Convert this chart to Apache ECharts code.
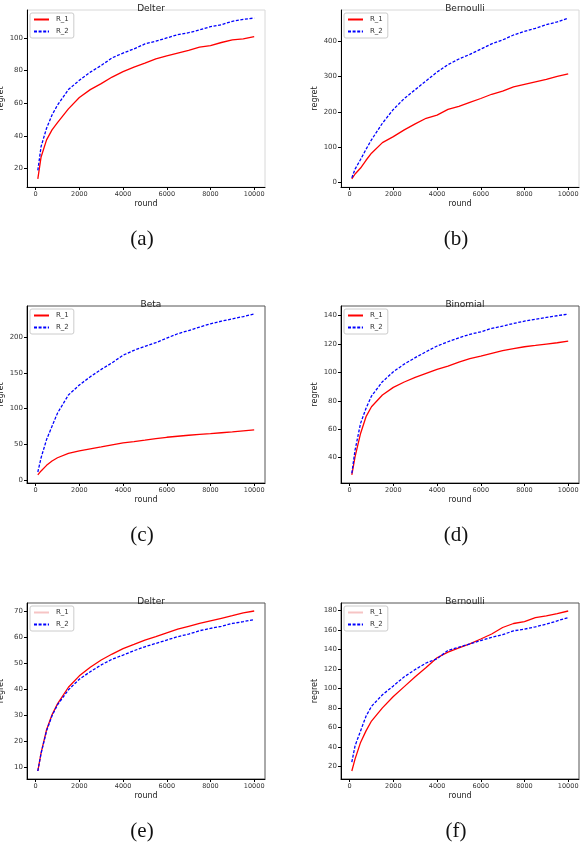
<!DOCTYPE html>
<html>
<head>
<meta charset="utf-8">
<script src="https://cdn.jsdelivr.net/npm/echarts@6/dist/echarts.min.js"></script>
<style>
    html, body { margin: 0; padding: 0; background: #fff; }
    #chart { width: 580px; height: 842px; }
</style>
</head>
<body>
<div id="chart"></div>
<script>
// rounds shared by every panel
const rounds = [100, 250, 500, 750, 1000, 1500, 2000, 2500, 3000, 3500, 4000, 4500, 5000, 5500, 6000, 6500, 7000, 7500, 8000, 8500, 9000, 9500, 10000]

// (a) Delter
const delterR1 = [13.5, 27, 37.5, 43.6, 48, 56.5, 63.5, 68.3, 72, 76, 79.3, 82.1, 84.6, 87.2, 89, 90.7, 92.3, 94.3, 95.3, 97.2, 98.8, 99.4, 100.8]
const delterR2 = [18.8, 33.4, 44.6, 52.7, 58.8, 68.3, 74, 79, 83.1, 87.8, 90.7, 93.3, 96.3, 98, 100, 102, 103.2, 104.9, 106.9, 108.1, 110.2, 111.4, 112.2]
// (b) Bernoulli
const bernR1 = [10, 24, 41, 63, 83, 113, 130, 149, 166, 182, 191, 207, 216, 227, 238, 250, 259, 271, 278, 285, 292, 301, 308]
const bernR2 = [13, 38, 65, 94, 121, 168, 207, 238, 263, 288, 313, 334, 350, 363, 378, 393, 404, 418, 428, 437, 447, 455, 466]
// (c) Beta
const betaR1 = [7.4, 13, 20.8, 26.8, 31.4, 37.4, 41, 43.9, 46.6, 49.4, 52.2, 54, 55.9, 58, 60, 61.4, 62.8, 64, 65.1, 66.3, 67.4, 68.8, 70.2]
const betaR2 = [11.5, 31.4, 56.8, 75.3, 93.7, 119, 133, 144.5, 154.7, 164, 174.5, 181.4, 187, 192, 198.5, 204.5, 209, 213.8, 218.4, 222, 225.3, 228.5, 232]
// (d) Binomial
const binoR1 = [27.8, 40.7, 57, 68.8, 75.8, 84, 89.4, 93.2, 96.4, 99.2, 102, 104.4, 107.2, 109.6, 111.4, 113.3, 115.2, 116.6, 118, 118.9, 119.9, 120.8, 122]
const binoR2 = [29, 45.4, 64.1, 74.7, 83.3, 93.4, 100.4, 105.8, 110.3, 114.5, 118.5, 121.5, 124.3, 126.7, 128.5, 130.9, 132.5, 134.4, 136, 137.4, 138.6, 139.8, 141]
// (e) Delter
const delter2R1 = [8.5, 15.5, 24.4, 30.2, 34.4, 40.8, 45.2, 48.5, 51.3, 53.6, 55.7, 57.3, 59, 60.3, 61.8, 63.2, 64.3, 65.4, 66.4, 67.4, 68.4, 69.5, 70.2]
const delter2R2 = [8.5, 15.3, 24, 29.8, 34, 39.8, 43.9, 46.8, 49.4, 51.6, 53.2, 54.9, 56.4, 57.7, 59, 60.3, 61.3, 62.6, 63.5, 64.3, 65.4, 66.1, 66.9]
// (f) Bernoulli
const bern2R1 = [15.3, 27.7, 44.6, 56.4, 66.5, 80, 91.7, 101.8, 111.9, 121.3, 131.4, 137.2, 141.5, 145.6, 150.6, 155.7, 162.4, 166.5, 168.5, 172.5, 174.2, 176.6, 179.3]
const bern2R2 = [24.4, 41.2, 56.4, 71.5, 81.6, 93.4, 102.5, 111.9, 119.3, 126, 130.4, 138.9, 142.2, 145.6, 149, 152.3, 155, 159, 160.7, 163.1, 165.8, 169.2, 172.5]

// tick labels
const xTicks = [0, 2000, 4000, 6000, 8000, 10000]
const yTicksA = [20, 40, 60, 80, 100]
const yTicksB = [0, 100, 200, 300, 400]
const yTicksC = [0, 50, 100, 150, 200]
const yTicksD = [40, 60, 80, 100, 120, 140]
const yTicksE = [10, 20, 30, 40, 50, 60, 70]
const yTicksF = [20, 40, 60, 80, 100, 120, 140, 160, 180]

const titles = ['Delter', 'Bernoulli', 'Beta', 'Binomial', 'Delter', 'Bernoulli']
const captions = ['(a)', '(b)', '(c)', '(d)', '(e)', '(f)']

const FONT = 'DejaVu Sans'

const panels = [
    { r1: delterR1, r2: delterR2, ticks: yTicksA, left: 27, top: 10, h: 177, frame: '#d8d8d8' },
    { r1: bernR1, r2: bernR2, ticks: yTicksB, left: 341, top: 10, h: 177, frame: '#d8d8d8' },
    { r1: betaR1, r2: betaR2, ticks: yTicksC, left: 27, top: 306, h: 177, frame: '#555' },
    { r1: binoR1, r2: binoR2, ticks: yTicksD, left: 341, top: 306, h: 177, frame: '#555' },
    { r1: delter2R1, r2: delter2R2, ticks: yTicksE, left: 27, top: 603, h: 176, frame: '#555', fadeR1: true },
    { r1: bern2R1, r2: bern2R2, ticks: yTicksF, left: 341, top: 603, h: 176, frame: '#555', fadeR1: true }
]
const captionY = [236, 236, 532, 532, 828, 828]

// matplotlib style 5% margins
function padded(arrs) {
    const all = [].concat(...arrs)
    const lo = Math.min(...all)
    const hi = Math.max(...all)
    const m = (hi - lo) * 0.05
    return [lo - m, hi + m]
}

const xr = padded([rounds])
const pairs = vals => rounds.map((r, i) => [r, vals[i]])
const plain = v => String(v)

const grid = [], xAxis = [], yAxis = [], series = [], legend = [], title = []

panels.forEach((p, i) => {
    const yr = padded([p.r1, p.r2])
    grid.push({
        left: p.left, top: p.top, width: 238, height: p.h,
        show: true, borderColor: p.frame, borderWidth: 1,
        outerBoundsMode: 'none', containLabel: false
    })
    xAxis.push({
        type: 'value', gridIndex: i, min: xr[0], max: xr[1],
        name: 'round', nameLocation: 'middle', nameGap: 13,
        nameTextStyle: { fontFamily: FONT, fontSize: 8, color: '#222' },
        axisLine: { show: true, onZero: false, lineStyle: { color: '#000', width: 1 } },
        axisTick: { show: true, length: 3, customValues: xTicks, lineStyle: { color: '#000' } },
        axisLabel: { customValues: xTicks, formatter: plain, fontFamily: FONT, fontSize: 6.5, color: '#333', margin: 4 },
        splitLine: { show: false }
    })
    yAxis.push({
        type: 'value', gridIndex: i, min: yr[0], max: yr[1],
        name: 'regret', nameLocation: 'middle', nameGap: 22, nameRotate: 90,
        nameTextStyle: { fontFamily: FONT, fontSize: 8, color: '#222' },
        axisLine: { show: true, onZero: false, lineStyle: { color: '#000', width: 1 } },
        axisTick: { show: true, length: 3, customValues: p.ticks, lineStyle: { color: '#000' } },
        axisLabel: { customValues: p.ticks, formatter: plain, fontFamily: FONT, fontSize: 7, color: '#333', margin: 4 },
        splitLine: { show: false }
    })
    series.push({
        name: 'R_1', type: 'line', xAxisIndex: i, yAxisIndex: i,
        data: pairs(p.r1), symbol: 'none', showSymbol: false, animation: false,
        lineStyle: { color: '#ff0000', width: 1.3 }, itemStyle: { color: '#ff0000' }
    })
    series.push({
        name: 'R_2', type: 'line', xAxisIndex: i, yAxisIndex: i,
        data: pairs(p.r2), symbol: 'none', showSymbol: false, animation: false,
        lineStyle: { color: '#0000ff', width: 1.3, type: [3, 1.6] }, itemStyle: { color: '#0000ff' }
    })
    legend.push({
        orient: 'vertical', left: p.left + 3, top: p.top + 3,
        data: [
            p.fadeR1 ? { name: 'R_1', lineStyle: { color: '#f6c4c4' } } : 'R_1',
            'R_2'
        ],
        itemWidth: 15, itemHeight: 6, itemGap: 5, padding: [3, 5, 3, 3],
        itemStyle: { opacity: 0 },
        backgroundColor: '#fff', borderColor: '#ccc', borderWidth: 1, borderRadius: 2,
        selectedMode: false,
        textStyle: { fontFamily: FONT, fontSize: 7, color: '#333', padding: [0, 0, 0, 2] }
    })
    title.push({
        text: titles[i], left: p.left + 119, top: p.top - 11, textAlign: 'center',
        textStyle: { fontFamily: FONT, fontSize: 9, fontWeight: 'normal', color: '#222' }
    })
    title.push({
        text: captions[i], left: p.left + 110, top: captionY[i] - 12, textAlign: 'center',
        textStyle: { fontFamily: 'Liberation Serif', fontSize: 21, fontWeight: 'normal', color: '#111' }
    })
})

const chart = echarts.init(document.getElementById('chart'), null, { renderer: 'canvas' })
chart.setOption({
    backgroundColor: '#fff',
    animation: false,
    title: title,
    legend: legend,
    grid: grid,
    xAxis: xAxis,
    yAxis: yAxis,
    series: series
})
</script>
</body>
</html>
